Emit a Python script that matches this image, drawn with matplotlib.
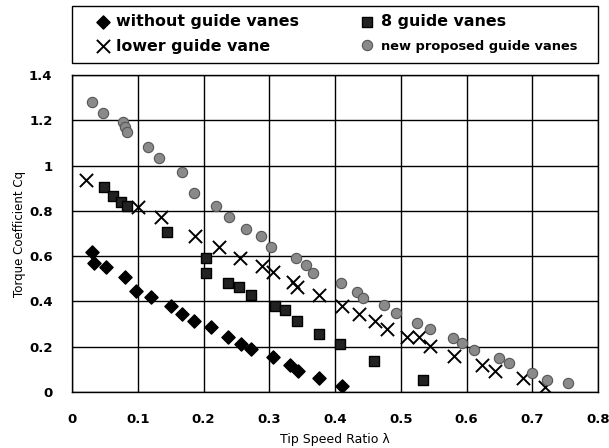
import matplotlib
matplotlib.use("Agg")
import matplotlib.pyplot as plt
from matplotlib.patches import Rectangle
from matplotlib.ticker import MultipleLocator, FuncFormatter

# without guide vanes
x_none = [0.030, 0.033, 0.052, 0.081, 0.097, 0.120, 0.150, 0.168, 0.186, 0.211,
          0.238, 0.257, 0.273, 0.306, 0.332, 0.343, 0.376, 0.410]
y_none = [0.620, 0.571, 0.551, 0.507, 0.447, 0.418, 0.380, 0.344, 0.314, 0.286,
          0.244, 0.212, 0.189, 0.153, 0.119, 0.094, 0.060, 0.028]

# 8 guide vanes
x_8gv = [0.048, 0.063, 0.075, 0.083, 0.144, 0.204, 0.204, 0.238, 0.254, 0.272,
         0.309, 0.324, 0.342, 0.376, 0.407, 0.460, 0.534]
y_8gv = [0.905, 0.866, 0.840, 0.822, 0.708, 0.590, 0.524, 0.480, 0.465, 0.428,
         0.378, 0.360, 0.315, 0.255, 0.212, 0.136, 0.053]

# lower guide vane
x_low = [0.021, 0.101, 0.135, 0.187, 0.223, 0.256, 0.289, 0.306, 0.336, 0.342,
         0.375, 0.410, 0.436, 0.461, 0.479, 0.509, 0.527, 0.545, 0.581, 0.623,
         0.644, 0.686, 0.720]
y_low = [0.936, 0.818, 0.774, 0.689, 0.642, 0.590, 0.558, 0.531, 0.487, 0.465,
         0.428, 0.380, 0.344, 0.315, 0.280, 0.244, 0.241, 0.203, 0.159, 0.119,
         0.094, 0.060, 0.023]

# new proposed guide vanes
x_new = [0.030, 0.047, 0.078, 0.081, 0.083, 0.116, 0.133, 0.167, 0.186, 0.219,
         0.239, 0.264, 0.287, 0.302, 0.341, 0.356, 0.367, 0.409, 0.433, 0.442,
         0.475, 0.493, 0.525, 0.544, 0.579, 0.593, 0.611, 0.649, 0.664, 0.699,
         0.722, 0.754]
y_new = [1.282, 1.234, 1.194, 1.172, 1.150, 1.081, 1.032, 0.970, 0.880, 0.820,
         0.772, 0.718, 0.689, 0.642, 0.590, 0.561, 0.524, 0.483, 0.443, 0.416,
         0.384, 0.348, 0.306, 0.280, 0.237, 0.215, 0.186, 0.148, 0.126, 0.085,
         0.053, 0.038]

W, H = 609, 448
fig = plt.figure(figsize=(W / 100, H / 100), dpi=100)
ax = fig.add_axes([72 / W, 1 - 392 / H, 526 / W, 317 / H])

ax.scatter(x_none, y_none, marker="D", s=45, c="black", label="without guide vanes", zorder=3)
ax.scatter(x_low, y_low, marker="x", s=90, c="black", linewidths=1.4, label="lower guide vane", zorder=3)
ax.scatter(x_8gv, y_8gv, marker="s", s=60, c="#222222", edgecolors="black", label="8 guide vanes", zorder=3)
ax.scatter(x_new, y_new, marker="o", s=55, c="#8a8a8a", edgecolors="#555555", linewidths=0.8,
           label="new proposed guide vanes", zorder=3)

ax.set_xlim(0, 0.8)
ax.set_ylim(0, 1.4)
ax.xaxis.set_major_locator(MultipleLocator(0.1))
ax.yaxis.set_major_locator(MultipleLocator(0.2))
fmt = FuncFormatter(lambda v, p: "%g" % round(v, 2))
ax.xaxis.set_major_formatter(fmt)
ax.yaxis.set_major_formatter(fmt)
ax.grid(True, color="black", linewidth=1.0)
ax.set_axisbelow(True)
for sp in ax.spines.values():
    sp.set_color("black")
    sp.set_linewidth(1.0)
ax.tick_params(axis="x", length=0, pad=15, labelsize=9.5)
ax.tick_params(axis="y", length=0, pad=14, labelsize=9.5)
for t in ax.get_xticklabels() + ax.get_yticklabels():
    t.set_fontweight("bold")

ax.set_xlabel("Tip Speed Ratio λ", fontsize=9, labelpad=5)
ax.set_ylabel("Torque Coefficient Cq", fontsize=8.5, labelpad=2)

# legend box above the plot
fig.patches.append(Rectangle((72 / W, 1 - 63 / H), 526 / W, 57 / H,
                             transform=fig.transFigure, fill=False,
                             edgecolor="black", linewidth=1.0))
leg = fig.legend(loc="upper left", ncol=2, bbox_to_anchor=(95 / W, 1 - 14 / H),
                 frameon=False, prop={"size": 11.4, "weight": "bold"},
                 handletextpad=0.35, borderpad=0, labelspacing=0.6,
                 handlelength=1.0, borderaxespad=0, columnspacing=3.8)
leg.get_texts()[3].set_fontsize(9.4)

fig.savefig("out.png", dpi=100)
